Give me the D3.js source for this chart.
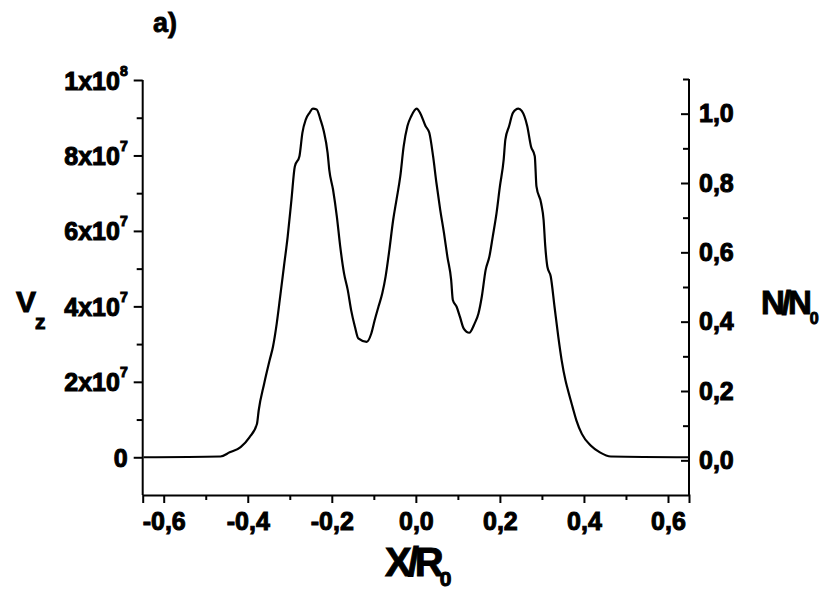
<!DOCTYPE html>
<html>
<head>
<meta charset="utf-8">
<script src="https://cdn.jsdelivr.net/npm/d3@7"></script>
<style>
  body { margin: 0; background: #fff; }
  text { font-family: "Liberation Sans", Arial, sans-serif; font-weight: bold; fill: #000; }
</style>
</head>
<body>
<script>
// profile: x = X/R0, vz = V_z
const xs = [-0.648, -0.465, -0.443, -0.417, -0.396, -0.378, -0.374, -0.361, -0.348, -0.340, -0.331,
  -0.322, -0.314, -0.305, -0.296, -0.288, -0.277, -0.270, -0.262, -0.253, -0.245, -0.236, -0.227,
  -0.219, -0.210, -0.206, -0.197, -0.188, -0.180, -0.171, -0.162, -0.154, -0.145, -0.137, -0.117,
  -0.106, -0.098, -0.089, -0.080, -0.072, -0.063, -0.054, -0.046, -0.037, -0.029, -0.020, -0.011,
  0.002, 0.010, 0.023, 0.032, 0.041, 0.049, 0.058, 0.067, 0.075, 0.084, 0.088, 0.097, 0.105, 0.114,
  0.127, 0.140, 0.149, 0.157, 0.166, 0.175, 0.183, 0.192, 0.200, 0.209, 0.213, 0.222, 0.231, 0.244,
  0.252, 0.265, 0.274, 0.283, 0.287, 0.298, 0.304, 0.308, 0.313, 0.321, 0.330, 0.339, 0.347, 0.356,
  0.360, 0.373, 0.382, 0.395, 0.416, 0.438, 0.464, 0.650];
const vz = [0, 0.02e7, 0.13e7, 0.27e7, 0.53e7, 0.89e7, 1.24e7, 1.95e7, 2.57e7, 2.93e7, 3.55e7,
  4.34e7, 5.05e7, 5.85e7, 6.83e7, 7.71e7, 7.98e7, 8.60e7, 8.95e7, 9.13e7, 9.24e7, 9.22e7, 8.95e7,
  8.64e7, 8.07e7, 7.62e7, 7.09e7, 6.38e7, 5.59e7, 4.88e7, 4.43e7, 3.90e7, 3.46e7, 3.15e7, 3.06e7,
  3.28e7, 3.63e7, 3.99e7, 4.34e7, 4.79e7, 5.50e7, 6.29e7, 6.83e7, 7.45e7, 8.24e7, 8.78e7, 9.04e7,
  9.24e7, 9.13e7, 8.78e7, 8.60e7, 7.98e7, 7.27e7, 6.56e7, 5.94e7, 5.32e7, 4.70e7, 4.17e7, 3.99e7, 3.72e7, 3.41e7,
  3.30e7, 3.55e7, 3.81e7, 4.26e7, 4.96e7, 5.32e7, 5.85e7, 6.47e7, 7.18e7, 7.89e7, 8.42e7, 8.78e7, 9.13e7, 9.24e7,
  9.18e7, 8.78e7, 8.24e7, 7.98e7, 7.18e7, 6.74e7, 6.29e7, 5.59e7, 5.05e7, 4.79e7, 3.99e7, 3.19e7, 2.57e7, 2.04e7,
  1.86e7, 1.33e7, 0.98e7, 0.62e7, 0.31e7, 0.13e7, 0.02e7, 0];

const xTickVals = [-0.6, -0.4, -0.2, 0, 0.2, 0.4, 0.6];
const xTickLabels = ['-0,6', '-0,4', '-0,2', '0,0', '0,2', '0,4', '0,6'];
const xMinorVals = [-0.5, -0.3, -0.1, 0.1, 0.3, 0.5];
const leftTickVals = [0, 2e7, 4e7, 6e7, 8e7, 1e8];
const leftTickBase = ['0', '2x10', '4x10', '6x10', '8x10', '1x10'];
const leftTickExp = ['', '7', '7', '7', '7', '8'];
const leftMinorVals = [1e7, 3e7, 5e7, 7e7, 9e7];
const rightTickVals = [0, 0.2, 0.4, 0.6, 0.8, 1.0];
const rightTickLabels = ['0,0', '0,2', '0,4', '0,6', '0,8', '1,0'];
const rightMinorVals = [0.1, 0.3, 0.5, 0.7, 0.9, 1.1];

const svg_width = 828;
const svg_height = 589;
const plot_left = 142.7;
const plot_right = 689;
const plot_top = 80;
const plot_bottom = 495;

const svg = d3.select('body')
    .append('svg')
    .attr('width', svg_width)
    .attr('height', svg_height);

const x = d3.scaleLinear().domain([-0.65, 0.65]).range([plot_left, plot_right]);
const yL = d3.scaleLinear().domain([-1e7, 1e8]).range([plot_bottom, plot_top]);
const yR = d3.scaleLinear().domain([-0.1, 1.1]).range([plot_bottom, plot_top - 1]);

function style_axis(g, size) {
    g.select('.domain').attr('stroke', '#000').attr('stroke-width', 2);
    g.selectAll('.tick line').attr('stroke', '#000').attr('stroke-width', 2);
    g.selectAll('.tick text')
        .attr('font-size', size)
        .attr('font-family', null)
        .attr('stroke', '#000')
        .attr('stroke-width', 1);
}

// bottom axis
const gx = svg.append('g')
    .attr('transform', `translate(0,${plot_bottom})`)
    .call(d3.axisBottom(x).tickValues(xTickVals).tickSize(8).tickPadding(9)
        .tickFormat((d, i) => xTickLabels[i]));
style_axis(gx, 25);
svg.append('g')
    .attr('transform', `translate(0,${plot_bottom})`)
    .call(d3.axisBottom(x).tickValues(xMinorVals).tickSize(5).tickFormat(''))
    .call(g => g.select('.domain').remove())
    .selectAll('line').attr('stroke', '#000').attr('stroke-width', 2);

// left axis
const gl = svg.append('g')
    .attr('transform', `translate(${plot_left},0)`)
    .call(d3.axisLeft(yL).tickValues(leftTickVals).tickSize(9).tickPadding(6).tickFormat(''))
    .call(g => g.select('.domain').attr('d', `M0,${plot_top}V${plot_bottom}`));
style_axis(gl, 25);
gl.selectAll('.tick text').each(function (d, i) {
    const t = d3.select(this).attr('dy', null).attr('dominant-baseline', 'central');
    t.append('tspan').text(leftTickBase[i]);
    if (leftTickExp[i]) {
        t.append('tspan').attr('font-size', 14).attr('dy', -10).text(leftTickExp[i]);
    }
});
svg.append('g')
    .attr('transform', `translate(${plot_left},0)`)
    .call(d3.axisLeft(yL).tickValues(leftMinorVals).tickSize(6).tickFormat(''))
    .call(g => g.select('.domain').remove())
    .selectAll('line').attr('stroke', '#000').attr('stroke-width', 2);

// right axis, ticks pointing inward
const gr = svg.append('g')
    .attr('transform', `translate(${plot_right},0)`)
    .call(d3.axisRight(yR).tickValues(rightTickVals).tickSize(-8).tickPadding(10)
        .tickFormat((d, i) => rightTickLabels[i]))
    .call(g => g.select('.domain').attr('d', `M0,${plot_top - 1}V${plot_bottom}`));
style_axis(gr, 25);
svg.append('g')
    .attr('transform', `translate(${plot_right},0)`)
    .call(d3.axisRight(yR).tickValues(rightMinorVals).tickSize(-6).tickFormat(''))
    .call(g => g.select('.domain').remove())
    .selectAll('line').attr('stroke', '#000').attr('stroke-width', 2);

// curve
const line = d3.line().x((d, i) => x(xs[i])).y((d, i) => yL(vz[i])).curve(d3.curveMonotoneX);
svg.append('path')
    .datum(vz)
    .attr('d', line)
    .attr('fill', 'none')
    .attr('stroke', '#000')
    .attr('stroke-width', 2.2)
    .attr('stroke-linejoin', 'round');

// titles
svg.append('text').attr('x', 153).attr('y', 32).attr('font-size', 27)
    .attr('stroke', '#000').attr('stroke-width', 0.8).text('a)');

const vzt = svg.append('text').attr('x', 16).attr('y', 312).attr('font-size', 30)
    .attr('stroke', '#000').attr('stroke-width', 1);
vzt.append('tspan').text('V');
vzt.append('tspan').attr('font-size', 21).attr('dy', 17).attr('dx', -1).text('z');

const nt = svg.append('text').attr('x', 761).attr('y', 314).attr('font-size', 33)
    .attr('letter-spacing', -3).attr('stroke', '#000').attr('stroke-width', 1);
nt.append('tspan').text('N/N');
nt.append('tspan').attr('font-size', 16).attr('dy', 10).attr('dx', 1).text('0');

const xt = svg.append('text').attr('x', 385).attr('y', 576).attr('font-size', 40)
    .attr('letter-spacing', -4).attr('stroke', '#000').attr('stroke-width', 1);
xt.append('tspan').text('X/R');
xt.append('tspan').attr('font-size', 21).attr('dy', 10).text('0');
</script>
</body>
</html>
